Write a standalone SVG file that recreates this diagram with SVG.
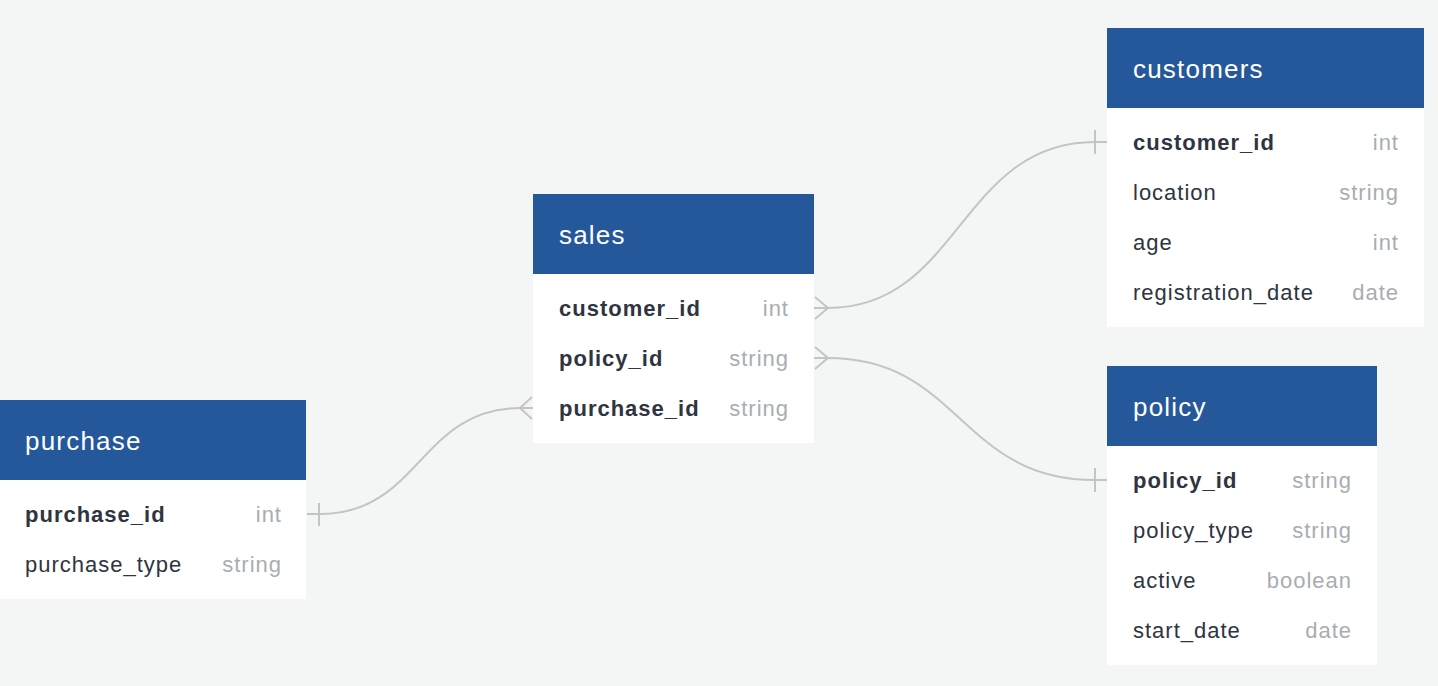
<svg xmlns="http://www.w3.org/2000/svg" width="1438" height="686" viewBox="0 0 1438 686">
<style>
.hd{fill:#25589a}
.bd{fill:#ffffff}
.tt{font-family:"Liberation Sans",Arial,sans-serif;font-size:26px;fill:#ffffff;letter-spacing:1.2px}
.fk{font-family:"Liberation Sans",Arial,sans-serif;font-size:22px;font-weight:bold;fill:#2e3440;letter-spacing:1px}
.fn{font-family:"Liberation Sans",Arial,sans-serif;font-size:22px;fill:#2e3440;letter-spacing:1px}
.ty{font-family:"Liberation Sans",Arial,sans-serif;font-size:22px;fill:#a9adb2;text-anchor:end;letter-spacing:1px}
.cn{fill:none;stroke:#c4c4c4;stroke-width:2}
</style>
<rect width="1438" height="686" fill="#f4f5f5"/>
<g id="connectors">
<path class="cn" d="M814,308 L828,308 C960,308 960,142 1095,142 L1107,142"/>
<path class="cn" d="M815,297 L828,308 L815,319 M815,308 L828,308"/>
<path class="cn" d="M1095,130 L1095,154"/>
<path class="cn" d="M814,358 L828,358 C960,358 960,480 1095,480 L1107,480"/>
<path class="cn" d="M815,347 L828,358 L815,369"/>
<path class="cn" d="M1095,468 L1095,492"/>
<path class="cn" d="M307,514 L320,514 C420,514 420,408 520,408 L533,408"/>
<path class="cn" d="M532,397 L520,408 L532,419"/>
<path class="cn" d="M319,503 L319,526"/>
</g>
<g id="customers">
<rect class="bd" x="1107" y="28" width="317" height="299"/>
<rect class="hd" x="1107" y="28" width="317" height="80"/>
<text class="tt" x="1133" y="78">customers</text>
<text class="fk" x="1133" y="150">customer_id</text><text class="ty" x="1399" y="150">int</text>
<text class="fn" x="1133" y="200">location</text><text class="ty" x="1399" y="200">string</text>
<text class="fn" x="1133" y="250">age</text><text class="ty" x="1399" y="250">int</text>
<text class="fn" x="1133" y="300">registration_date</text><text class="ty" x="1399" y="300">date</text>
</g>
<g id="sales">
<rect class="bd" x="533" y="194" width="281" height="249"/>
<rect class="hd" x="533" y="194" width="281" height="80"/>
<text class="tt" x="559" y="244">sales</text>
<text class="fk" x="559" y="316">customer_id</text><text class="ty" x="789" y="316">int</text>
<text class="fk" x="559" y="366">policy_id</text><text class="ty" x="789" y="366">string</text>
<text class="fk" x="559" y="416">purchase_id</text><text class="ty" x="789" y="416">string</text>
</g>
<g id="purchase">
<rect class="bd" x="0" y="400" width="306" height="199"/>
<rect class="hd" x="0" y="400" width="306" height="80"/>
<text class="tt" x="25" y="450">purchase</text>
<text class="fk" x="25" y="522">purchase_id</text><text class="ty" x="282" y="522">int</text>
<text class="fn" x="25" y="572">purchase_type</text><text class="ty" x="282" y="572">string</text>
</g>
<g id="policy">
<rect class="bd" x="1107" y="366" width="270" height="299"/>
<rect class="hd" x="1107" y="366" width="270" height="80"/>
<text class="tt" x="1133" y="416">policy</text>
<text class="fk" x="1133" y="488">policy_id</text><text class="ty" x="1352" y="488">string</text>
<text class="fn" x="1133" y="538">policy_type</text><text class="ty" x="1352" y="538">string</text>
<text class="fn" x="1133" y="588">active</text><text class="ty" x="1352" y="588">boolean</text>
<text class="fn" x="1133" y="638">start_date</text><text class="ty" x="1352" y="638">date</text>
</g>
</svg>
